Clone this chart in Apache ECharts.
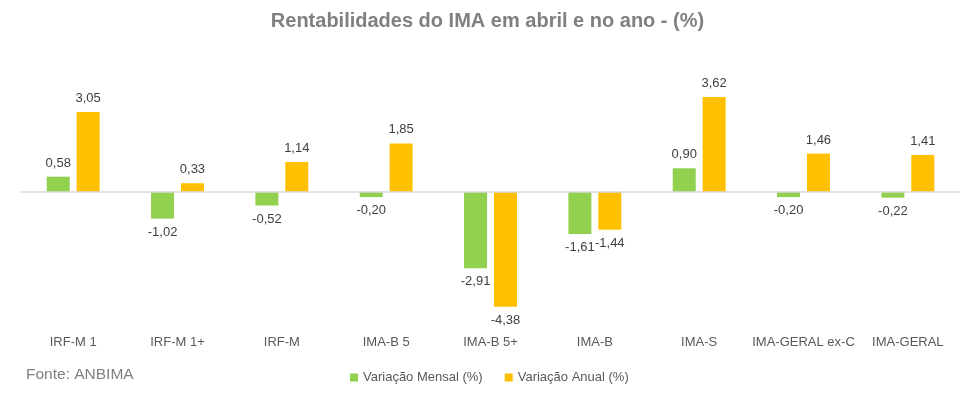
<!DOCTYPE html>
<html>
<head>
<meta charset="utf-8">
<script src="https://cdn.jsdelivr.net/npm/echarts@6/dist/echarts.min.js"></script>
<style>
html,body{margin:0;padding:0;background:#fff;}
#chart{width:975px;height:399px;}
</style>
</head>
<body>
<div id="chart"></div>
<script>
// rentabilidades IMA
var categorias = ["IRF-M 1","IRF-M 1+","IRF-M","IMA-B 5","IMA-B 5+","IMA-B","IMA-S","IMA-GERAL ex-C","IMA-GERAL"];
var variacaoMensal = [0.58,-1.02,-0.52,-0.20,-2.91,-1.61,0.90,-0.20,-0.22];
var variacaoAnual = [3.05,0.33,1.14,1.85,-4.38,-1.44,3.62,1.46,1.41];
var nomesSeries = ["Variação Mensal (%)","Variação Anual (%)"];

var fonte = "'Liberation Sans', Arial, sans-serif";

function fmt(v){
	return v.toFixed(2).replace(".", ",");
}

function toData(arr){
	var out = [];
	for(var i=0;i<arr.length;i++){
		out.push({value:arr[i], label:{position: arr[i] < 0 ? 'bottom' : 'top'}});
	}
	return out;
}

var mycharts = echarts.init(document.getElementById('chart'));

var option = {
	animation:false,
	title:{
		text:"Rentabilidades do IMA em abril e no ano - (%)",
		left:'center',
		top:6,
		textStyle:{color:'#808080', fontSize:20, fontWeight:'bold', fontFamily:fonte}
	},
	legend:{
		data:nomesSeries,
		left:345,
		top:366,
		itemWidth:8,
		itemHeight:8,
		itemGap:22,
		icon:'rect',
		textStyle:{color:'#595959', fontSize:13, fontFamily:fonte}
	},
	graphic:[{
		type:'text',
		left:26,
		top:367,
		style:{text:'Fonte: ANBIMA', fill:'#808080', fontSize:15.5, fontFamily:fonte}
	}],
	grid:{left:21, right:15, top:87, height:236},
	xAxis:{
		type:'category',
		data:categorias,
		axisLine:{show:false, onZero:false},
		axisTick:{show:false},
		axisLabel:{color:'#595959', fontSize:13, fontFamily:fonte, margin:13, interval:0}
	},
	yAxis:{
		type:'value',
		min:-5,
		max:4,
		show:false,
		splitLine:{show:false}
	},
	series:[
		{
			name:nomesSeries[0],
			type:'bar',
			data:toData(variacaoMensal),
			barWidth:23,
			barGap:'30%',
			itemStyle:{color:'#92D050'},
			label:{show:true, distance:7, color:'#404040', fontSize:13, fontFamily:fonte, formatter:function(p){return fmt(p.value);}},
			markLine:{
				silent:true,
				symbol:['none','none'],
				label:{show:false},
				lineStyle:{color:'#D9D9D9', width:1.5, type:'solid'},
				data:[{yAxis:0}]
			}
		},
		{
			name:nomesSeries[1],
			type:'bar',
			data:toData(variacaoAnual),
			barWidth:23,
			barGap:'30%',
			itemStyle:{color:'#FFC000'},
			label:{show:true, distance:7, color:'#404040', fontSize:13, fontFamily:fonte, formatter:function(p){return fmt(p.value);}}
		}
	]
};
mycharts.setOption(option);
</script>
</body>
</html>
